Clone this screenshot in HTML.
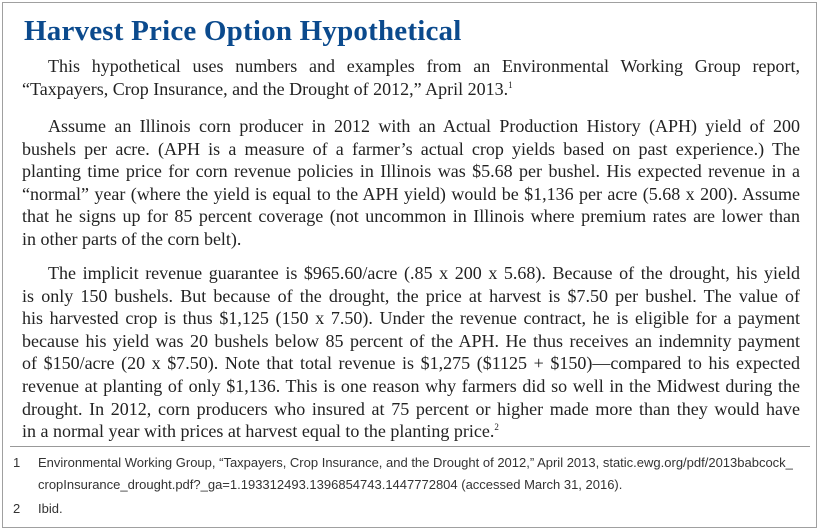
<!DOCTYPE html>
<html><head><meta charset="utf-8"><style>
*{margin:0;padding:0;box-sizing:border-box}
body{width:825px;height:529px;background:#fff;position:relative;overflow:hidden}
.box{position:absolute;left:2px;top:2px;width:815px;height:526px;border:1.5px solid #a0a0a0}
h1{position:absolute;left:24px;top:15px;font:bold 29px "Liberation Serif",serif;color:#0b4a8d;letter-spacing:0.2px}
.p{position:absolute;left:22px;width:778px;font:18px "Liberation Serif",serif;color:#222}
.l{height:22.6px;line-height:22.6px;white-space:nowrap;text-align:justify;text-align-last:justify}
.l.e{text-align-last:left}
.i{padding-left:26px}
sup{font-size:9px;line-height:0;vertical-align:7px}
.sep{position:absolute;left:10px;width:800px;top:446px;border-top:1px solid #999}
.fn{position:absolute;font:13px "Liberation Sans",sans-serif;color:#333;line-height:22px}
</style></head><body>
<div class="box"></div>
<h1>Harvest Price Option Hypothetical</h1>
<div class="p" style="top:55px">
<div class="l i">This hypothetical uses numbers and examples from an Environmental Working Group report,</div>
<div class="l e">“Taxpayers, Crop Insurance, and the Drought of 2012,” April 2013.<sup>1</sup></div>
</div>
<div class="p" style="top:115px">
<div class="l i">Assume an Illinois corn producer in 2012 with an Actual Production History (APH) yield of 200</div>
<div class="l">bushels per acre. (APH is a measure of a farmer’s actual crop yields based on past experience.) The</div>
<div class="l">planting time price for corn revenue policies in Illinois was $5.68 per bushel. His expected revenue in a</div>
<div class="l">“normal” year (where the yield is equal to the APH yield) would be $1,136 per acre (5.68 x 200). Assume</div>
<div class="l">that he signs up for 85 percent coverage (not uncommon in Illinois where premium rates are lower than</div>
<div class="l e">in other parts of the corn belt).</div>
</div>
<div class="p" style="top:262px">
<div class="l i">The implicit revenue guarantee is $965.60/acre (.85 x 200 x 5.68). Because of the drought, his yield</div>
<div class="l">is only 150 bushels. But because of the drought, the price at harvest is $7.50 per bushel. The value of</div>
<div class="l">his harvested crop is thus $1,125 (150 x 7.50). Under the revenue contract, he is eligible for a payment</div>
<div class="l">because his yield was 20 bushels below 85 percent of the APH. He thus receives an indemnity payment</div>
<div class="l">of $150/acre (20 x $7.50). Note that total revenue is $1,275 ($1125 + $150)—compared to his expected</div>
<div class="l">revenue at planting of only $1,136. This is one reason why farmers did so well in the Midwest during the</div>
<div class="l">drought. In 2012, corn producers who insured at 75 percent or higher made more than they would have</div>
<div class="l e">in a normal year with prices at harvest equal to the planting price.<sup>2</sup></div>
</div>
<div class="sep"></div>
<div class="fn" style="left:13px;top:452px">1</div>
<div class="fn" style="left:38px;top:452px">Environmental Working Group, “Taxpayers, Crop Insurance, and the Drought of 2012,” April 2013, static.ewg.org/pdf/2013babcock_<br>cropInsurance_drought.pdf?_ga=1.193312493.1396854743.1447772804 (accessed March 31, 2016).</div>
<div class="fn" style="left:13px;top:498px">2</div>
<div class="fn" style="left:38px;top:498px">Ibid.</div>
</body></html>
